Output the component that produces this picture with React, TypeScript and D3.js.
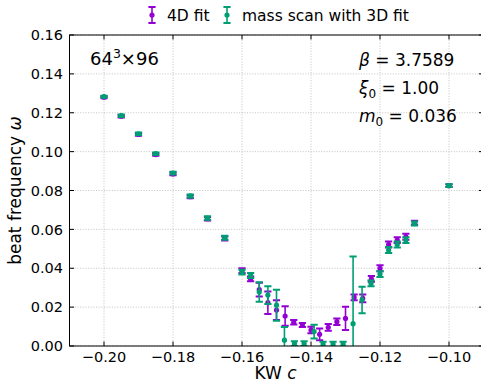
import React from "react";
import * as d3 from "d3";

// 4D fit series
const c4D = [-0.2, -0.195, -0.19, -0.185, -0.18, -0.175, -0.17, -0.165, -0.16, -0.1575, -0.155, -0.1525, -0.15, -0.1475, -0.145, -0.1425, -0.14, -0.1375, -0.135, -0.1325, -0.13, -0.1275, -0.125, -0.1225, -0.12, -0.1175, -0.115, -0.1125, -0.11, -0.1];
const omega4D = [0.128, 0.1182, 0.1088, 0.0985, 0.0885, 0.0768, 0.0655, 0.0553, 0.0388, 0.0345, 0.029, 0.0223, 0.0185, 0.0154, 0.0122, 0.0108, 0.0082, 0.006, 0.0096, 0.0125, 0.0142, 0.025, 0.0245, 0.0345, 0.04, 0.0522, 0.0545, 0.0562, 0.0635, 0.0825];
const err4D = [0.0005, 0.0006, 0.0006, 0.0006, 0.0007, 0.0008, 0.0009, 0.001, 0.0012, 0.0012, 0.0035, 0.0058, 0.0051, 0.005, 0.0012, 0.001, 0.0017, 0.003, 0.0017, 0.0017, 0.006, 0.0015, 0.002, 0.0015, 0.0015, 0.0015, 0.0015, 0.0015, 0.001, 0.0007];

// mass scan with 3D fit series
const cMass = [-0.2, -0.195, -0.19, -0.185, -0.18, -0.175, -0.17, -0.165, -0.16, -0.1575, -0.155, -0.1525, -0.15, -0.1477, -0.1448, -0.142, -0.1391, -0.1365, -0.1336, -0.1307, -0.1278, -0.1252, -0.1226, -0.12, -0.1175, -0.115, -0.1125, -0.11, -0.1];
const omegaMass = [0.1283, 0.1185, 0.1092, 0.099, 0.089, 0.0772, 0.0658, 0.0557, 0.038, 0.0363, 0.0278, 0.0262, 0.021, 0.003, 0.0012, 0.0012, 0.0074, 0.001, 0.001, 0.001, 0.0115, 0.0237, 0.0322, 0.037, 0.0494, 0.0522, 0.0545, 0.063, 0.0825];
const errMass = [0.0005, 0.0006, 0.0006, 0.0006, 0.0007, 0.0008, 0.0009, 0.001, 0.0012, 0.0013, 0.005, 0.0046, 0.008, 0.0068, 0.0012, 0.0012, 0.0035, 0.0012, 0.0012, 0.0012, 0.0345, 0.0068, 0.0015, 0.0015, 0.0015, 0.0015, 0.0015, 0.001, 0.0007];

const xTicks = [-0.2, -0.18, -0.16, -0.14, -0.12, -0.1];
const yTicks = [0, 0.02, 0.04, 0.06, 0.08, 0.1, 0.12, 0.14, 0.16];

const PURPLE = "#9400d3";
const GREEN = "#009e73";
const FONT = "DejaVu Sans, sans-serif";

const W = 481;
const H = 382;
const left = 69.5;
const right = 483.5;
const top = 35;
const bottom = 346;

const x = d3.scaleLinear().domain([-0.21, -0.09]).range([left, right]);
const y = d3.scaleLinear().domain([0, 0.16]).range([bottom, top]);

const fmt = (v: number) => {
  const s = d3.format(".2f")(Math.abs(v));
  return (v < 0 ? "\u2212" : "") + s;
};

function ErrorBars({ cs, ws, es, color }: { cs: number[]; ws: number[]; es: number[]; color: string }) {
  return (
    <g>
      {cs.map((c, i) => {
        const px = x(c);
        const y1 = y(ws[i] + es[i]);
        const y0 = y(ws[i] - es[i]);
        return (
          <g key={i}>
            <line x1={px} x2={px} y1={y0} y2={y1} stroke={color} strokeWidth={1.6} />
            <line x1={px - 3.6} x2={px + 3.6} y1={y1} y2={y1} stroke={color} strokeWidth={2} />
            <line x1={px - 3.6} x2={px + 3.6} y1={y0} y2={y0} stroke={color} strokeWidth={2} />
            <circle cx={px} cy={y(ws[i])} r={2.6} fill={color} />
          </g>
        );
      })}
    </g>
  );
}

function LegendMarker({ cx, cy, color }: { cx: number; cy: number; color: string }) {
  return (
    <g>
      <line x1={cx} x2={cx} y1={cy - 8} y2={cy + 8} stroke={color} strokeWidth={1.6} />
      <line x1={cx - 3.6} x2={cx + 3.6} y1={cy - 8} y2={cy - 8} stroke={color} strokeWidth={2} />
      <line x1={cx - 3.6} x2={cx + 3.6} y1={cy + 8} y2={cy + 8} stroke={color} strokeWidth={2} />
      <circle cx={cx} cy={cy} r={2.6} fill={color} />
    </g>
  );
}

export default function App() {
  return (
    <svg width={W} height={H} style={{ position: "absolute", left: 0, top: 0 }} fontFamily={FONT}>
      <defs>
        <clipPath id="plotclip">
          <rect x={left} y={top} width={right - left} height={bottom - top} />
        </clipPath>
      </defs>
      <rect x={0} y={0} width={W} height={H} fill="white" />
      {/* grid */}
      <g stroke="#b0b0b0" strokeWidth={0.8} strokeDasharray="1,1.65" opacity={0.9}>
        {xTicks.map((t) => (
          <line key={"gx" + t} x1={x(t)} x2={x(t)} y1={top} y2={bottom} />
        ))}
        {yTicks.map((t) => (
          <line key={"gy" + t} x1={left} x2={right} y1={y(t)} y2={y(t)} />
        ))}
      </g>
      {/* data */}
      <g clipPath="url(#plotclip)">
        <ErrorBars cs={c4D} ws={omega4D} es={err4D} color={PURPLE} />
        <ErrorBars cs={cMass} ws={omegaMass} es={errMass} color={GREEN} />
      </g>
      {/* spines */}
      <rect x={left} y={top} width={right - left} height={bottom - top} fill="none" stroke="black" strokeWidth={1} />
      {/* ticks */}
      <g stroke="black" strokeWidth={1}>
        {xTicks.map((t) => (
          <g key={"tx" + t}>
            <line x1={x(t)} x2={x(t)} y1={bottom} y2={bottom - 4.5} />
            <line x1={x(t)} x2={x(t)} y1={top} y2={top + 4.5} />
          </g>
        ))}
        {yTicks.map((t) => (
          <g key={"ty" + t}>
            <line x1={left} x2={left + 4.5} y1={y(t)} y2={y(t)} />
            <line x1={right} x2={right - 4.5} y1={y(t)} y2={y(t)} />
          </g>
        ))}
      </g>
      {/* tick labels */}
      <g fontSize={14.5} fill="black">
        {xTicks.map((t) => (
          <text key={"lx" + t} x={x(t)} y={bottom + 15.5} textAnchor="middle">
            {fmt(t)}
          </text>
        ))}
        {yTicks.map((t) => (
          <text key={"ly" + t} x={left - 6.5} y={y(t) + 5.2} textAnchor="end">
            {fmt(t)}
          </text>
        ))}
      </g>
      {/* axis labels */}
      <text x={(left + right) / 2 - 1} y={379} textAnchor="middle" fontSize={17}>
        KW <tspan fontStyle="italic">c</tspan>
      </text>
      <text
        transform={`translate(21,${(top + bottom) / 2}) rotate(-90)`}
        textAnchor="middle"
        fontSize={17}
      >
        beat frequency <tspan fontStyle="italic">ω</tspan>
      </text>
      {/* annotations */}
      <text x={90} y={65} fontSize={18}>
        64<tspan dy={-7.5} fontSize={12.5}>3</tspan>
        <tspan dy={7.5}>×96</tspan>
      </text>
      <g fontSize={17}>
        <text x={359} y={66}>
          <tspan fontStyle="italic">β</tspan> = 3.7589
        </text>
        <text x={359} y={94}>
          <tspan fontStyle="italic">ξ</tspan>
          <tspan dy={4} fontSize={12}>0</tspan>
          <tspan dy={-4}> = 1.00</tspan>
        </text>
        <text x={359} y={122}>
          <tspan fontStyle="italic">m</tspan>
          <tspan dy={4} fontSize={12}>0</tspan>
          <tspan dy={-4}> = 0.036</tspan>
        </text>
      </g>
      {/* legend */}
      <LegendMarker cx={152} cy={15} color={PURPLE} />
      <text x={167} y={21} fontSize={15.5}>4D fit</text>
      <LegendMarker cx={227} cy={15} color={GREEN} />
      <text x={242} y={21} fontSize={15.5}>mass scan with 3D fit</text>
    </svg>
  );
}
